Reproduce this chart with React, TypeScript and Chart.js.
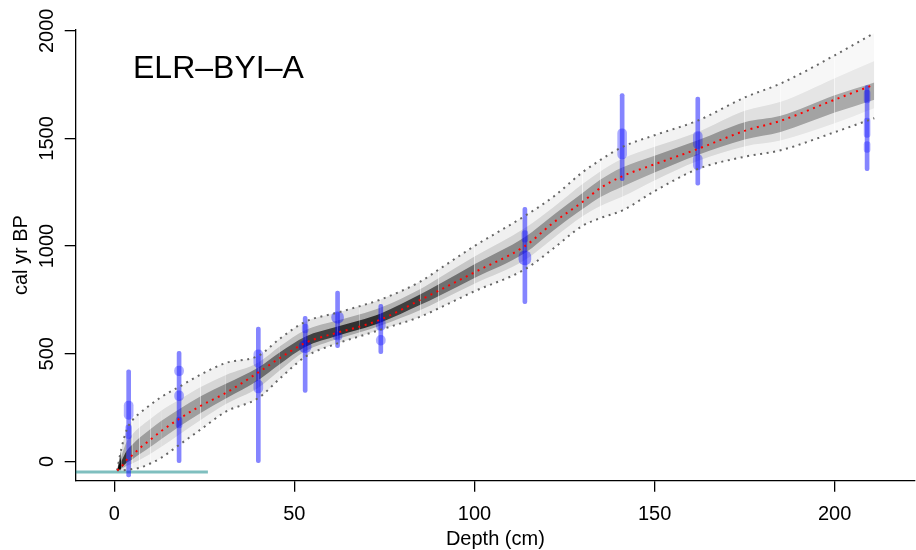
import React, { useEffect, useRef } from "react";
import { Chart, registerables } from "chart.js";

Chart.register(...registerables);

// ---------- data ----------
const coreName = "ELR–BYI–A";
const xTicks = [0, 50, 100, 150, 200];
const yTicks = [0, 500, 1000, 1500, 2000];

const depths = [0.8, 2, 3.5, 5, 7, 10, 13, 18, 24, 31, 40, 46, 53, 62, 68, 74, 85, 90, 100, 114, 122, 130, 135, 141, 150, 162, 175, 185, 200, 211];
const meanAge = [-42, -25, 8, 28, 60, 100, 140, 197, 258, 318, 413, 480, 550, 598, 625, 659, 750, 792, 878, 1000, 1110, 1205, 1270, 1324, 1380, 1451, 1535, 1582, 1680, 1750];
const upper95 = [-42, 60, 148, 190, 223, 262, 298, 346, 403, 457, 490, 570, 648, 691, 720, 752, 835, 890, 1000, 1140, 1230, 1343, 1400, 1460, 1515, 1583, 1690, 1755, 1886, 1990];
const lower95 = [-42, -42, -40, -36, -30, -10, 16, 76, 148, 231, 294, 385, 485, 548, 580, 612, 672, 710, 790, 892, 990, 1094, 1130, 1165, 1255, 1358, 1415, 1445, 1529, 1594];
const innerUpper = [-42, 26, 92, 125, 158, 197, 235, 286, 345, 401, 459, 534, 609, 654, 682, 715, 801, 851, 951, 1084, 1182, 1288, 1348, 1406, 1461, 1530, 1628, 1670, 1780, 1860];
const innerLower = [-42, -35, -21, -10, 6, 34, 66, 124, 192, 266, 342, 423, 511, 568, 598, 631, 703, 743, 825, 935, 1038, 1138, 1186, 1229, 1305, 1395, 1463, 1490, 1570, 1640];
const coreUpper = [-42, 1, 50, 77, 109, 149, 187, 242, 302, 360, 436, 507, 579, 626, 654, 687, 776, 821, 915, 1042, 1146, 1246, 1309, 1365, 1420, 1491, 1575, 1605, 1700, 1760];
const coreLower = [-42, -30, -6, 9, 33, 67, 103, 161, 225, 292, 377, 452, 531, 583, 612, 645, 727, 767, 852, 968, 1074, 1172, 1228, 1276, 1342, 1423, 1495, 1530, 1620, 1680];

const surfaceDepths = [-11, 26];
const surfaceAge = [-50, -50];

const dateDepths = [4, 18, 40, 53, 62, 74, 114, 141, 162, 209];
const dateMin = [-72, -6, -6, 320, 528, 500, 732, 1304, 1283, 1350];
const dateMax = [425, 511, 624, 673, 791, 729, 1180, 1708, 1692, 1746];

const blobWideDepth = [53, 62, 114];
const blobWideLow = [505, 642, 912];
const blobWideHigh = [562, 695, 978];

const blobMidDepth = [4, 18, 18, 40, 40, 62, 74, 74, 141, 162, 162];
const blobMidLow = [195, 398, 282, 436, 318, 564, 608, 540, 1405, 1452, 1355];
const blobMidHigh = [280, 443, 328, 518, 376, 600, 664, 585, 1545, 1532, 1425];

const blobSmallDepth = [4, 18, 53, 114, 209, 209, 209];
const blobSmallLow = [105, 155, 596, 1018, 1665, 1505, 1435];
const blobSmallHigh = [170, 205, 638, 1072, 1725, 1595, 1485];

// ---------- helpers ----------
const pts = (xs: number[], ys: number[]) => xs.map((x, i) => ({ x, y: ys[i] }));
const bars = (xs: number[], lo: number[], hi: number[]) => xs.map((x, i) => ({ x, y: [lo[i], hi[i]] }));

// grey density: narrower band -> darker (like a heat map of the age-depth model)
function bandColor(lo: number[], hi: number[], k: number, maxA: number) {
  return (c: any) => {
    const i = c.p0DataIndex;
    const j = c.p1DataIndex;
    const yS = c.chart && c.chart.scales ? c.chart.scales.y : null;
    const px = (v: number) => (yS ? yS.getPixelForValue(v) : -v * 0.2153);
    const w = (Math.abs(px(hi[i]) - px(lo[i])) + Math.abs(px(hi[j]) - px(lo[j]))) / 2;
    const a = Math.min(maxA, Math.pow(k / Math.max(w, 0.5), 1.5));
    return `rgba(0,0,0,${a.toFixed(3)})`;
  };
}

const FONT = '"Liberation Sans", Arial, Helvetica, sans-serif';

const textPlugin = {
  id: "rtext",
  afterDraw(chart: any) {
    const { ctx, chartArea, scales } = chart;
    const x = scales.x;
    const y = scales.y;
    ctx.save();
    ctx.fillStyle = "#000";
    ctx.font = `20px ${FONT}`;
    ctx.textAlign = "center";
    ctx.textBaseline = "alphabetic";
    for (const v of xTicks) ctx.fillText(String(v), x.getPixelForValue(v), 520);
    for (const v of yTicks) {
      ctx.save();
      ctx.translate(53, y.getPixelForValue(v));
      ctx.rotate(-Math.PI / 2);
      ctx.fillText(String(v), 0, 0);
      ctx.restore();
    }
    ctx.fillText("Depth (cm)", (chartArea.left + chartArea.right) / 2, 545);
    ctx.save();
    ctx.translate(26.5, (chartArea.top + chartArea.bottom) / 2);
    ctx.rotate(-Math.PI / 2);
    ctx.fillText("cal yr BP", 0, 0);
    ctx.restore();
    ctx.font = `32px ${FONT}`;
    ctx.textAlign = "left";
    ctx.fillText(coreName, 133, 78);
    ctx.restore();
  },
};

const hidden = "rgba(0,0,0,0)";

export default function App() {
  const ref = useRef<HTMLCanvasElement | null>(null);
  useEffect(() => {
    if (!ref.current) return;
    const lineBase = {
      type: "line" as const,
      pointRadius: 0,
      cubicInterpolationMode: "monotone" as const,
    };
    const blob = (d: number[], lo: number[], hi: number[], w: number, color: string, order: number) => ({
      type: "bar" as const,
      data: bars(d, lo, hi) as any,
      backgroundColor: color,
      borderWidth: 0,
      borderSkipped: false,
      borderRadius: w / 2,
      barThickness: w,
      grouped: false,
      order,
    });
    const band = (lo: number[], hi: number[], loIndex: number, order: number) => [
      { ...lineBase, data: pts(depths, lo), borderColor: hidden, borderWidth: 1, fill: false, order },
      {
        ...lineBase,
        data: pts(depths, hi),
        borderColor: hidden,
        borderWidth: 1,
        fill: { target: loIndex },
        backgroundColor: "rgba(0,0,0,0.1)",
        segment: { backgroundColor: bandColor(lo, hi, 7.3, 0.82) },
        order: order - 1,
      },
    ];
    const dotted = (ys: number[], color: string, order: number) => ({
      ...lineBase,
      data: pts(depths, ys),
      borderColor: color,
      borderWidth: 2,
      borderDash: [2, 4.6],
      fill: false,
      order,
    });
    const chart = new Chart(ref.current, {
      type: "line",
      data: {
        datasets: [
          ...band(lower95, upper95, 0, 40), // 0,1
          ...band(innerLower, innerUpper, 2, 38), // 2,3
          ...band(coreLower, coreUpper, 4, 36), // 4,5
          {
            ...lineBase,
            data: pts(surfaceDepths, surfaceAge),
            borderColor: "rgba(0,128,128,0.5)",
            borderWidth: 3,
            fill: false,
            order: 30,
          },
          blob(dateDepths, dateMin, dateMax, 4, "rgba(0,0,255,0.48)", 20),
          blob(blobWideDepth, blobWideLow, blobWideHigh, 12, "rgba(0,0,255,0.38)", 19),
          blob(blobMidDepth, blobMidLow, blobMidHigh, 9, "rgba(0,0,255,0.32)", 18),
          blob(blobSmallDepth, blobSmallLow, blobSmallHigh, 6, "rgba(0,0,255,0.3)", 17),
          dotted(upper95, "#666", 10),
          dotted(lower95, "#666", 10),
          dotted(meanAge, "#ff0000", 5),
        ] as any,
      },
      options: {
        responsive: false,
        animation: false,
        devicePixelRatio: 1,
        events: [],
        layout: { padding: { left: 0, right: 1, top: 29.5, bottom: 0 } },
        plugins: { legend: { display: false }, tooltip: { enabled: false }, title: { display: false } },
        scales: {
          x: {
            type: "linear",
            min: -10.7,
            max: 222.3,
            offset: false,
            afterBuildTicks: (s: any) => {
              s.ticks = xTicks.map((v) => ({ value: v }));
            },
            afterFit: (s: any) => {
              s.height = 69.3;
            },
            ticks: { display: false },
            grid: { offset: false, drawOnChartArea: false, drawTicks: true, tickLength: 11, color: "#000", lineWidth: 1.3 },
            border: { display: true, color: "#000", width: 1.3 },
          },
          y: {
            type: "linear",
            min: -90,
            max: 2006,
            afterBuildTicks: (s: any) => {
              s.ticks = yTicks.map((v) => ({ value: v }));
            },
            afterFit: (s: any) => {
              s.width = 75.7;
            },
            ticks: { display: false },
            grid: { offset: false, drawOnChartArea: false, drawTicks: true, tickLength: 11, color: "#000", lineWidth: 1.3 },
            border: { display: true, color: "#000", width: 1.3 },
          },
        },
      } as any,
      plugins: [textPlugin],
    });
    return () => chart.destroy();
  }, []);

  return (
    <div style={{ position: "fixed", left: 0, top: 0, width: 916, height: 550, background: "#fff" }}>
      <canvas ref={ref} width={916} height={550} style={{ display: "block", width: 916, height: 550 }} />
    </div>
  );
}
